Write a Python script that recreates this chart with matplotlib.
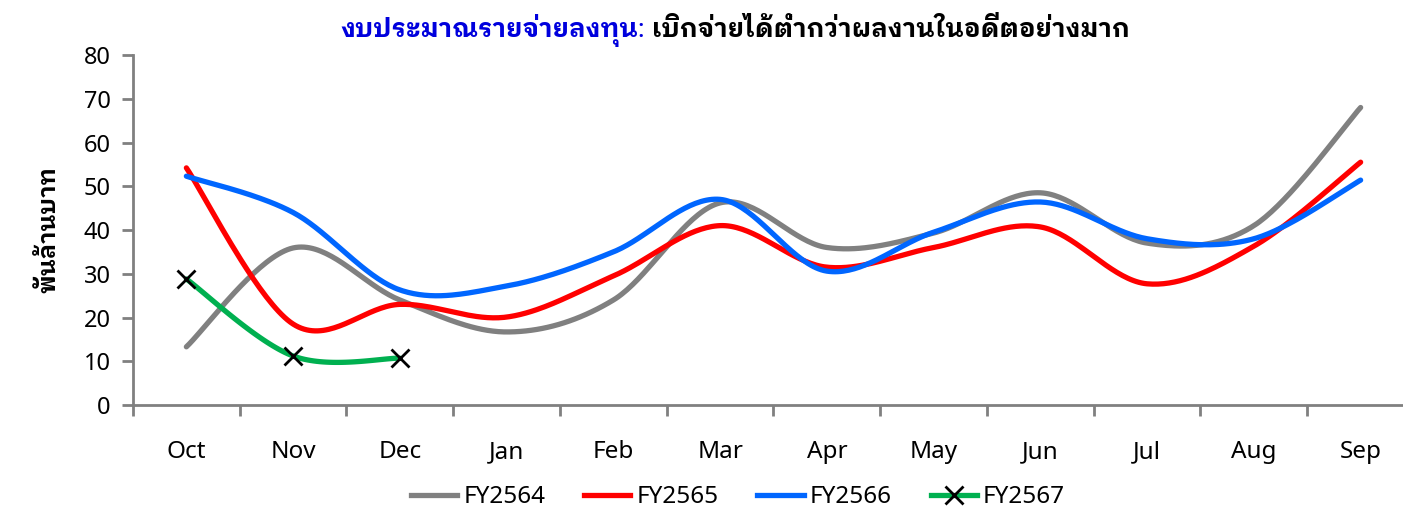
import numpy as np
import matplotlib
matplotlib.use('Agg')
import matplotlib.pyplot as plt
from matplotlib.lines import Line2D

plt.rcParams['font.family'] = ['Noto Sans', 'IBM Plex Sans Thai Looped', 'Noto Sans Thai Looped', 'DejaVu Sans']

months = ['Oct', 'Nov', 'Dec', 'Jan', 'Feb', 'Mar', 'Apr', 'May', 'Jun', 'Jul', 'Aug', 'Sep']
fy2564 = [13.3, 35.9, 24.0, 16.7, 24.0, 46.2, 36.0, 39.3, 48.5, 37.0, 41.0, 68.0]
fy2565 = [54.2, 18.5, 23.0, 20.1, 29.5, 41.0, 31.5, 36.0, 40.7, 27.7, 36.3, 55.5]
fy2566 = [52.3, 44.0, 26.3, 27.2, 35.0, 47.0, 30.6, 39.5, 46.4, 38.0, 38.0, 51.4]
fy2567 = [28.8, 11.2, 10.7]

names = ['FY2564', 'FY2565', 'FY2566', 'FY2567']
colors = ['#808080', '#FF0000', '#0066FF', '#00B050']


def smooth(y, n=40):
    # excel-like smoothed line: bezier with catmull-rom control points
    x = np.arange(len(y), dtype=float)
    y = np.asarray(y, dtype=float)
    px = np.concatenate([[x[0]], x, [x[-1]]])
    py = np.concatenate([[y[0]], y, [y[-1]]])
    xs, ys = [], []
    t = np.linspace(0, 1, n)
    for i in range(1, len(px) - 2):
        p0 = np.array([px[i], py[i]])
        p3 = np.array([px[i + 1], py[i + 1]])
        c1 = p0 + (np.array([px[i + 1], py[i + 1]]) - np.array([px[i - 1], py[i - 1]])) / 6
        c2 = p3 - (np.array([px[i + 2], py[i + 2]]) - np.array([px[i], py[i]])) / 6
        b = ((1 - t) ** 3)[:, None] * p0 + (3 * (1 - t) ** 2 * t)[:, None] * c1 \
            + (3 * (1 - t) * t ** 2)[:, None] * c2 + (t ** 3)[:, None] * p3
        xs.append(b[:, 0])
        ys.append(b[:, 1])
    return np.concatenate(xs), np.concatenate(ys)


fig = plt.figure(figsize=(14.03, 5.11), dpi=100)
ax = fig.add_axes([133 / 1403, 106 / 511, 1281 / 1403, 350 / 511])

for vals, c in zip([fy2564, fy2565, fy2566, fy2567], colors):
    sx, sy = smooth(vals)
    ax.plot(sx, sy, color=c, lw=3.8, solid_capstyle='round', zorder=2)
ax.plot(range(len(fy2567)), fy2567, ls='none', marker='x', ms=13, mew=2,
        color='black', zorder=3)

ax.set_xlim(-0.5, 11.5)
ax.set_ylim(0, 80)
ax.set_yticks(range(0, 81, 10))
ax.set_xticks(np.arange(-0.5, 12, 1))
ax.set_xticks(range(12), minor=True)
ax.set_xticklabels([])
ax.set_xticklabels(months, minor=True)
for s in ['top', 'right']:
    ax.spines[s].set_visible(False)
for s in ['left', 'bottom']:
    ax.spines[s].set_color('#808080')
    ax.spines[s].set_linewidth(2)
ax.tick_params(axis='y', length=8, width=2, color='#808080', labelsize=17, pad=8)
ax.tick_params(axis='x', which='major', length=8, width=2, color='#808080')
ax.tick_params(axis='x', which='minor', length=0, labelsize=17.5, pad=38)
for lab in ax.get_xticklabels(minor=True):
    lab.set_verticalalignment('baseline')
ax.set_ylabel('พันล้านบาท', fontsize=17, fontweight='bold', labelpad=16)

# two-colour title
fig.canvas.draw()
r = fig.canvas.get_renderer()
t1 = fig.text(340 / 1403, 0.941, 'งบประมาณรายจ่ายลงทุน:', color='#0000DD',
              fontsize=18.5, fontweight='bold', va='center')
bb = t1.get_window_extent(r)
fig.text(bb.x1 / fig.bbox.width + 0.005, 0.941, 'เบิกจ่ายได้ต่ำกว่าผลงานในอดีตอย่างมาก',
         color='black', fontsize=18.5, fontweight='bold', va='center')

handles = []
for i, c in enumerate(colors):
    if i == 3:
        handles.append(Line2D([], [], color=c, lw=3.8, marker='x', ms=13, mew=2,
                              mec='black'))
    else:
        handles.append(Line2D([], [], color=c, lw=3.8))
fig.legend(handles, names, loc='center', bbox_to_anchor=(0.526, 0.027), ncol=4,
           frameon=False, fontsize=17.5, handlelength=1.9, handletextpad=0.25,
           columnspacing=1.6, numpoints=1)

fig.savefig('out.png')
